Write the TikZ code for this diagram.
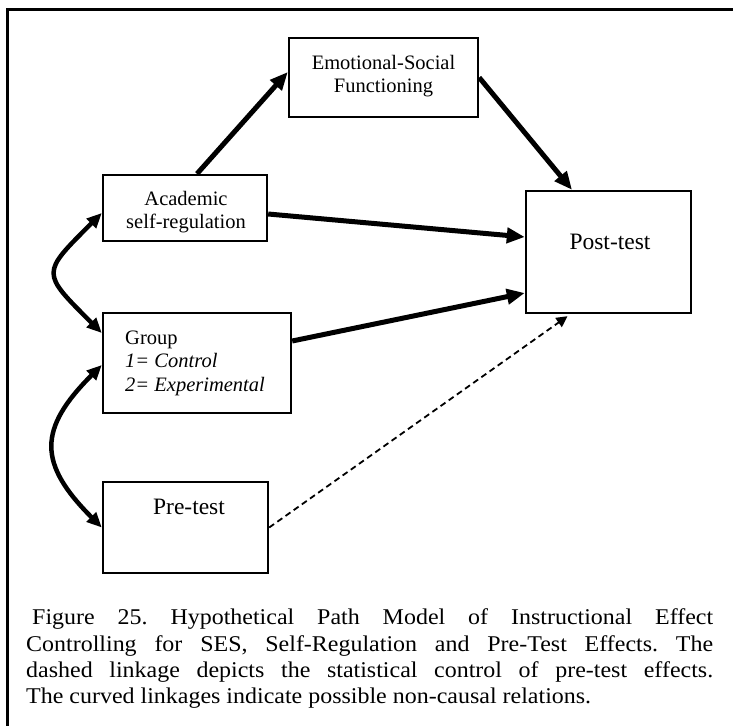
\documentclass[tikz,border=0pt]{standalone}
\usepackage{fontspec}
\setmainfont{Liberation Serif}
\newfontfamily\capfont[FakeStretch=1.065]{Liberation Serif}
\usetikzlibrary{arrows.meta}

\tikzset{
  box/.style={draw, line width=2.4pt, rectangle, inner sep=0pt},
  lbl/.style={inner sep=0pt, font=\fontsize{20.5}{23.5}\selectfont, align=center},
  biglbl/.style={inner sep=0pt, font=\fontsize{23.5}{26}\selectfont},
  path/.style={line width=5pt, -{Triangle[length=18pt,width=15pt]}},
  corr/.style={line width=4.5pt, {Triangle[length=15pt,width=13pt]}-{Triangle[length=15pt,width=13pt]}},
  ctrl/.style={line width=1.8pt, dash pattern=on 6pt off 4pt, -{Triangle[length=11pt,width=11pt]}},
  capline/.style={inner sep=0pt, anchor=base west, font=\capfont\fontsize{22.5}{26.5}\selectfont\frenchspacing}
}

\begin{document}
\begin{tikzpicture}[x=1pt,y=-1pt]
  \useasboundingbox (0,0) rectangle (733,725);
  % outer frame (right and bottom edges fall outside the page)
  \draw[line width=3pt] (7,10) rectangle (760,760);

  % boxes
  \node[box, minimum width=189pt, minimum height=79pt]  (emo)   at (383.5,77.5) {};
  \node[box, minimum width=164pt, minimum height=66pt]  (acad)  at (185,208)    {};
  \node[box, minimum width=188pt, minimum height=100pt] (group) at (197,363)    {};
  \node[box, minimum width=165pt, minimum height=91pt]  (pre)   at (185.5,527.5){};
  \node[box, minimum width=165pt, minimum height=122pt] (post)  at (608.5,252)  {};

  % box texts
  \node[lbl] (emotxt)  at (383.5,76) {Emotional-Social\\Functioning};
  \node[lbl] (acadtxt) at (186,212) {Academic\\self-regulation};
  \node[lbl, align=left, anchor=west] (grouptxt) at (125,363)
       {Group\\\textit{1= Control}\\\textit{2= Experimental}};
  \node[biglbl] (pretxt)  at (189,507) {Pre-test};
  \node[biglbl] (posttxt) at (610,242) {Post-test};

  % causal paths
  \draw[path] ([xshift=12pt]acad.north) -- ([yshift=5.5pt]emo.west);
  \draw[path] (emo.east) -- ([xshift=-36.5pt]post.north);
  \draw[path] ([yshift=-6pt]acad.east) -- ([yshift=15pt]post.west);
  \draw[path] ([yshift=22pt]group.east) -- ([yshift=-41pt]post.west);

  % statistical control of pre-test
  \draw[ctrl] (pre.east) -- ([xshift=-41pt,yshift=-2pt]post.south);

  % non-causal relations
  \draw[corr] ([yshift=-5pt]acad.west) .. controls +(-61,61) and +(-61,-61) .. ([yshift=30pt]group.west);
  \draw[corr] ([yshift=-2pt]group.west) .. controls +(-64,64) and +(-64,-64) .. (pre.west);

  % caption
  \node[capline] (cap1) at (32,624)
    {\makebox[681pt][s]{Figure 25. Hypothetical Path Model of Instructional Effect}};
  \node[capline] (cap2) at (26,651)
    {\makebox[687pt][s]{Controlling for SES, Self-Regulation and Pre-Test Effects. The}};
  \node[capline] (cap3) at (26,677)
    {\makebox[687pt][s]{dashed linkage depicts the statistical control of pre-test effects.}};
  \node[capline] (cap4) at (26,703)
    {The curved linkages indicate possible non-causal relations.};
\end{tikzpicture}
\end{document}
